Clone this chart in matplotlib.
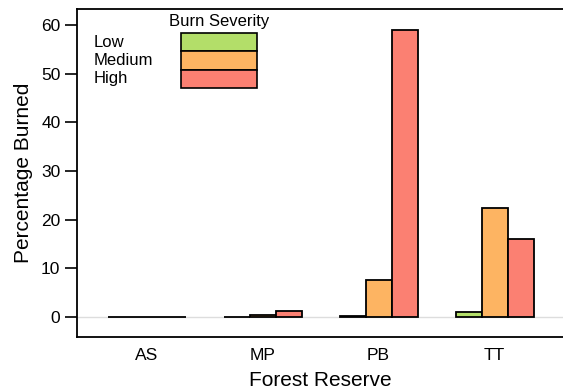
import matplotlib.pyplot as plt
import numpy as np
from matplotlib.patches import Rectangle

plt.rcParams['font.family'] = ['Liberation Sans', 'DejaVu Sans']

reserves = ['AS', 'MP', 'PB', 'TT']
severity = ['Low', 'Medium', 'High']
low = [0.0, 0.1, 0.3, 1.0]
medium = [0.0, 0.5, 7.6, 22.5]
high = [0.0, 1.2, 59.0, 16.0]
colors = ['#B3DE69', '#FDB462', '#FB8072']

fig = plt.figure(figsize=(5.63, 3.91), dpi=100)
ax = fig.add_axes([0.137, 0.138, 0.863, 0.839])

x = np.arange(len(reserves))
w = 0.224
ax.axhline(0, color='#dddddd', lw=1, zorder=0)
for i, (vals, c) in enumerate(zip([low, medium, high], colors)):
    ax.bar(x + (i - 1) * w, vals, w, color=c, edgecolor='black', linewidth=1.3, zorder=2)

ax.set_xlim(-0.6, 3.59)
ax.set_ylim(-4.1, 63.3)
ax.set_xticks(x)
ax.set_xticklabels(reserves)
ax.set_yticks(range(0, 61, 10))
ax.tick_params(axis='x', length=0, labelsize=12.5, pad=8)
ax.tick_params(axis='y', length=9, width=1.2, labelsize=12.5, pad=3)
ax.spines['right'].set_visible(False)
for s in ['left', 'bottom', 'top']:
    ax.spines[s].set_linewidth(1.3)
ax.set_xlabel('Forest Reserve', fontsize=15, labelpad=6)
ax.set_ylabel('Percentage Burned', fontsize=15, labelpad=6)

# legend drawn by hand: labels on the left, stacked swatches on the right
ax.text(0.214 + 0.078, 0.963, 'Burn Severity', transform=ax.transAxes,
        ha='center', va='center', fontsize=12)
row_h = 0.056
for i, (lab, c) in enumerate(zip(severity, colors)):
    y0 = 0.927 - (i + 1) * row_h
    ax.add_patch(Rectangle((0.214, y0), 0.156, row_h, transform=ax.transAxes,
                           facecolor=c, edgecolor='black', lw=1.2, zorder=3))
    ax.text(0.033, y0 + row_h / 2, lab, transform=ax.transAxes,
            ha='left', va='center', fontsize=12)

fig.savefig('out.png', dpi=100)
